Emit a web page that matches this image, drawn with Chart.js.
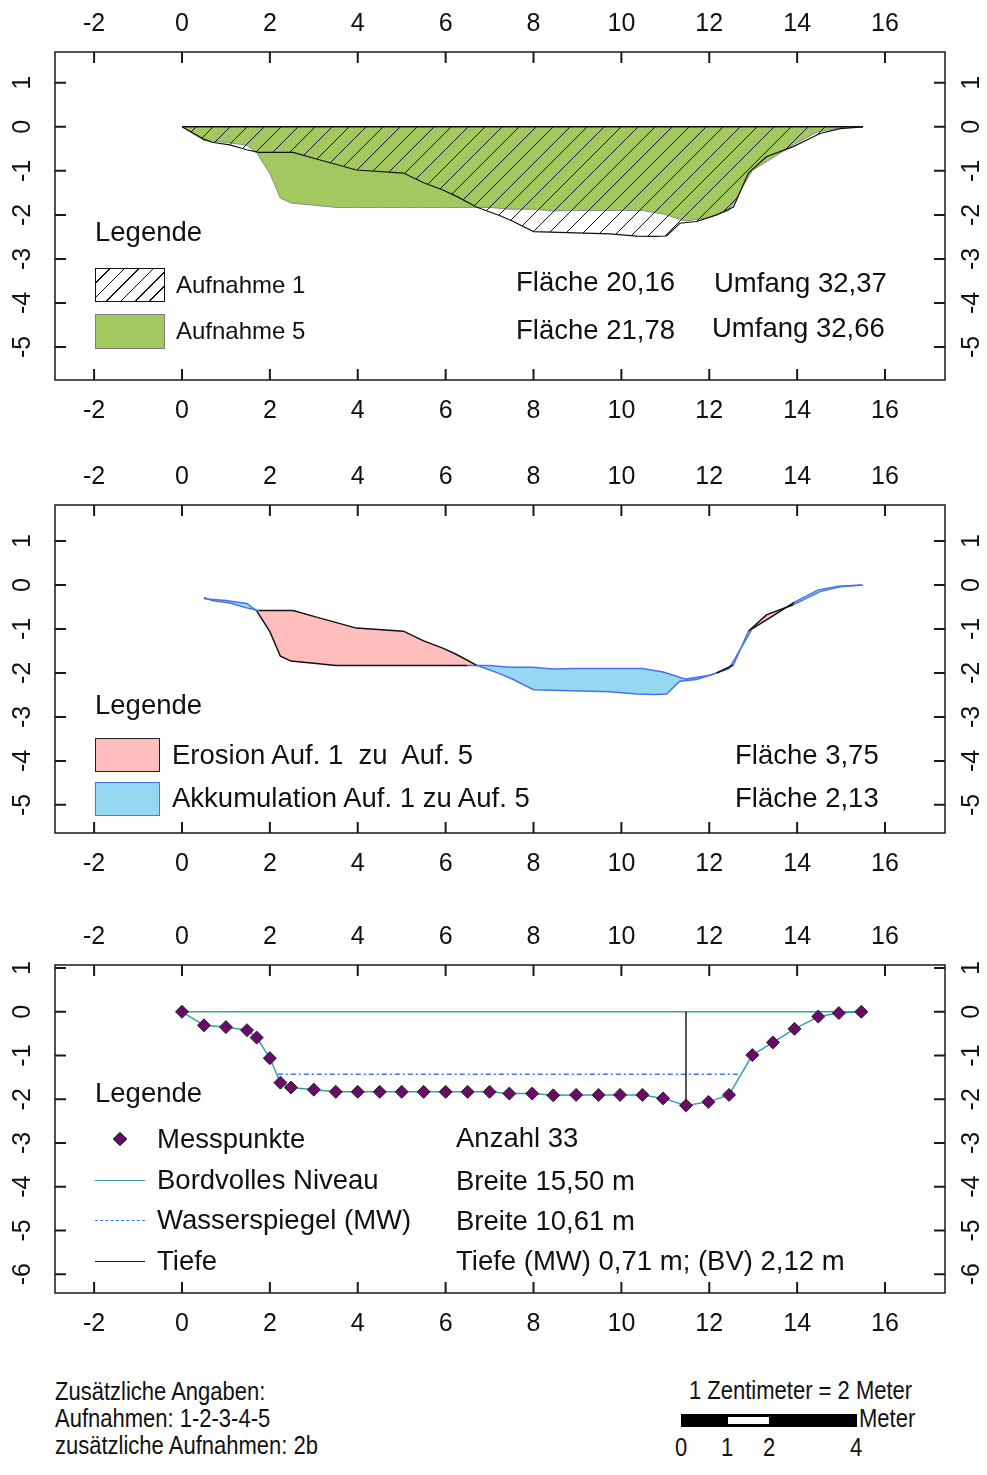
<!DOCTYPE html>
<html>
<head>
<meta charset="utf-8">
<script src="https://cdn.jsdelivr.net/npm/chart.js@4.4.0/dist/chart.umd.min.js"></script>
<style>
  body { margin: 0; background: #fff; }
  #page { position: relative; width: 987px; height: 1475px; overflow: hidden;
          font-family: "Liberation Sans", Arial, sans-serif; color: #111; }
  canvas { position: absolute; left: 0; }
  .t { position: absolute; white-space: pre; transform: translateY(-50%); line-height: 1; font-size: 27.5px; }
  .s24 { font-size: 24px; }
  .n { font-size: 25px; transform-origin: 0 50%; transform: translateY(-50%) scaleX(0.88); }
  .sw { position: absolute; box-sizing: border-box; border: 1.5px solid #111; }
  .hatch { background: repeating-linear-gradient(135deg, #fff 0 9px, #111 9px 10.2px); }
  .ln { position: absolute; height: 0; }
</style>
</head>
<body>
<div id="page">
  <canvas id="c1" width="987" height="440" style="top:0"></canvas>
  <canvas id="c2" width="987" height="445" style="top:445px"></canvas>
  <canvas id="c3" width="987" height="445" style="top:905px"></canvas>

  <!-- Panel 1 -->
  <div class="t" style="left:95px;top:232px">Legende</div>
  <div class="sw hatch" style="left:95px;top:268px;width:70px;height:34px"></div>
  <div class="t s24" style="left:176px;top:285px">Aufnahme 1</div>
  <div class="sw" style="left:95px;top:314px;width:70px;height:35px;background:#a4c860;border-color:#7d7d7d"></div>
  <div class="t s24" style="left:176px;top:331px">Aufnahme 5</div>
  <div class="t" style="left:516px;top:282px">Fläche 20,16</div>
  <div class="t" style="left:714px;top:283px">Umfang 32,37</div>
  <div class="t" style="left:516px;top:330px">Fläche 21,78</div>
  <div class="t" style="left:712px;top:328px">Umfang 32,66</div>

  <!-- Panel 2 -->
  <div class="t" style="left:95px;top:705px">Legende</div>
  <div class="sw" style="left:95px;top:738px;width:65px;height:34px;background:#ffbdbd;border-color:#222"></div>
  <div class="t" style="left:172px;top:755px">Erosion Auf. 1  zu  Auf. 5</div>
  <div class="sw" style="left:95px;top:782px;width:65px;height:34px;background:#96d8f2;border-color:#4a72ee"></div>
  <div class="t" style="left:172px;top:798px">Akkumulation Auf. 1 zu Auf. 5</div>
  <div class="t" style="left:735px;top:755px">Fläche 3,75</div>
  <div class="t" style="left:735px;top:798px">Fläche 2,13</div>

  <!-- Panel 3 -->
  <div class="t" style="left:95px;top:1093px">Legende</div>
  <div style="position:absolute;left:115px;top:1134px;width:8px;height:8px;background:#6c0a6c;border:1px solid #222;transform:rotate(45deg)"></div>
  <div class="t" style="left:157px;top:1139px">Messpunkte</div>
  <div class="ln" style="left:95px;top:1180px;width:50px;border-top:1.5px solid #3aa0a0"></div>
  <div class="t" style="left:157px;top:1180px">Bordvolles Niveau</div>
  <div class="ln" style="left:95px;top:1220px;width:50px;border-top:1.5px dashed #3a75ff"></div>
  <div class="t" style="left:157px;top:1220px">Wasserspiegel (MW)</div>
  <div class="ln" style="left:95px;top:1261px;width:50px;border-top:1.5px solid #111"></div>
  <div class="t" style="left:157px;top:1261px">Tiefe</div>
  <div class="t" style="left:456px;top:1138px">Anzahl 33</div>
  <div class="t" style="left:456px;top:1181px">Breite 15,50 m</div>
  <div class="t" style="left:456px;top:1221px">Breite 10,61 m</div>
  <div class="t" style="left:456px;top:1261px">Tiefe (MW) 0,71 m; (BV) 2,12 m</div>

  <!-- Fußzeile -->
  <div class="t n" style="left:55px;top:1391px">Zusätzliche Angaben:</div>
  <div class="t n" style="left:55px;top:1418px">Aufnahmen: 1-2-3-4-5</div>
  <div class="t n" style="left:55px;top:1445px">zusätzliche Aufnahmen: 2b</div>
  <div class="t n" style="left:689px;top:1390px">1 Zentimeter = 2 Meter</div>
  <div style="position:absolute;left:681px;top:1414px;width:176px;height:13px;background:#000"></div>
  <div style="position:absolute;left:728px;top:1417px;width:41px;height:7px;background:#fff"></div>
  <div class="t n" style="left:859px;top:1418px">Meter</div>
  <div class="t n" style="left:675px;top:1447px">0</div>
  <div class="t n" style="left:721px;top:1447px">1</div>
  <div class="t n" style="left:763px;top:1447px">2</div>
  <div class="t n" style="left:850px;top:1447px">4</div>
</div>

<script>
// Achsen
const xTicks = [-2, 0, 2, 4, 6, 8, 10, 12, 14, 16];
const xMin = -2.89, xMax = 17.365;
const yTicks12 = [1, 0, -1, -2, -3, -4, -5];
const yTicks3 = [1, 0, -1, -2, -3, -4, -5, -6];
const yRange1 = [-5.75, 1.70];
const yRange2 = [-5.64, 1.82];
const yRange3 = [-6.43, 1.07];

// Aufnahme 1 (Querprofil)
const profil1X = [0, 0.5, 0.68, 1.09, 1.47, 1.75, 2.53, 3.06, 3.97, 5.04, 5.5, 5.95, 6.25, 6.7,
  7.24, 7.54, 8.0, 9.74, 10.35, 10.76, 11.03, 11.33, 11.71, 12.17, 12.55, 12.89, 13.3, 13.91,
  14.52, 14.98, 15.5];
const profil1Y = [0, -0.28, -0.35, -0.41, -0.52, -0.58, -0.58, -0.73, -0.98, -1.05, -1.27, -1.44,
  -1.58, -1.82, -2.02, -2.15, -2.38, -2.43, -2.48, -2.49, -2.48, -2.19, -2.15, -2.0, -1.82,
  -1.05, -0.68, -0.45, -0.15, -0.04, 0];

// Aufnahme 5 (Messpunkte)
const profil5X = [0, 0.5, 1.0, 1.48, 1.7, 2.0, 2.24, 2.48, 3.0, 3.5, 4.0, 4.5, 5.0, 5.5, 6.0, 6.5,
  7.0, 7.45, 7.97, 8.45, 8.97, 9.48, 9.97, 10.48, 10.95, 11.47, 11.98, 12.45, 12.98, 13.45,
  13.94, 14.48, 14.95, 15.46];
const profil5Y = [0, -0.31, -0.35, -0.42, -0.59, -1.06, -1.62, -1.73, -1.78, -1.83, -1.83, -1.83,
  -1.83, -1.83, -1.83, -1.83, -1.83, -1.87, -1.87, -1.91, -1.9, -1.9, -1.9, -1.9, -1.98, -2.14,
  -2.06, -1.9, -0.99, -0.7, -0.39, -0.11, -0.03, 0];

// Bordvolles Niveau, Wasserspiegel, Tiefe
const bordX = [0, 15.5];
const bordY = 0;
const wasserX = [2.18, 12.7];
const wasserY = -1.43;
const tiefeX = 11.47;
const tiefeY = [0, -2.14];

const FONT = '"Liberation Sans", Arial, sans-serif';
const GREEN = '#a4c860', PINK = '#ffbdbd', LIGHTBLUE = '#96d8f2';
const BLUE = '#4a72ee', TEAL = '#3aa0a0', PURPLE = '#6c0a6c';

const pts = (xs, ys) => xs.map((x, i) => ({ x, y: Array.isArray(ys) ? ys[i] : ys }));

function interp(xs, ys, x) {
  if (x <= xs[0]) return ys[0];
  for (let i = 1; i < xs.length; i++) {
    if (x <= xs[i]) {
      const t = (x - xs[i - 1]) / (xs[i] - xs[i - 1]);
      return ys[i - 1] + t * (ys[i] - ys[i - 1]);
    }
  }
  return ys[ys.length - 1];
}

function hatchPattern() {
  const s = 17;
  const c = document.createElement('canvas');
  c.width = s; c.height = s;
  const g = c.getContext('2d');
  g.strokeStyle = '#111';
  g.lineWidth = 1;
  g.beginPath();
  [0, s, 2 * s].forEach((k) => { g.moveTo(-2, k + 2); g.lineTo(k + 2, -2); });
  g.stroke();
  return g.createPattern(c, 'repeat');
}

// Rahmen, Ticks nach innen, gedrehte y-Beschriftung
const frame = {
  id: 'frame',
  afterDraw(chart) {
    const { ctx, chartArea: a, scales } = chart;
    const L = 11;
    ctx.save();
    ctx.strokeStyle = '#1a1a1a';
    ctx.lineWidth = 1.5;
    ctx.strokeRect(a.left, a.top, a.right - a.left, a.bottom - a.top);
    ctx.lineWidth = 2;
    ctx.beginPath();
    scales.x.ticks.forEach((t) => {
      const px = scales.x.getPixelForValue(t.value);
      ctx.moveTo(px, a.bottom); ctx.lineTo(px, a.bottom - L);
      ctx.moveTo(px, a.top); ctx.lineTo(px, a.top + L);
    });
    scales.y.ticks.forEach((t) => {
      const py = scales.y.getPixelForValue(t.value);
      ctx.moveTo(a.left, py); ctx.lineTo(a.left + L, py);
      ctx.moveTo(a.right, py); ctx.lineTo(a.right - L, py);
    });
    ctx.stroke();

    ctx.fillStyle = '#111';
    ctx.font = '25px ' + FONT;
    ctx.textAlign = 'center';
    ctx.textBaseline = 'middle';
    scales.y.ticks.forEach((t) => {
      const py = scales.y.getPixelForValue(t.value);
      [a.left - 32, a.right + 27].forEach((x) => {
        ctx.save();
        ctx.translate(x, py);
        ctx.rotate(-Math.PI / 2);
        ctx.fillText(String(t.value), 0, 0);
        ctx.restore();
      });
    });
    ctx.restore();
  },
};

function makeScales(yRange, yTicks, topH, botH) {
  const xTickOpts = (padding) => ({
    padding,
    color: '#111',
    font: { size: 25, family: FONT },
    maxRotation: 0,
    autoSkip: false,
    callback: (v) => String(v),
  });
  const setX = (s) => { s.ticks = xTicks.map((v) => ({ value: v })); };
  const setY = (s) => { s.ticks = yTicks.map((v) => ({ value: v })); };
  const off = { display: false, drawTicks: false };
  return {
    x: { type: 'linear', position: 'bottom', min: xMin, max: xMax, afterBuildTicks: setX,
      grid: off, border: { display: false }, ticks: xTickOpts(16),
      afterFit: (s) => { s.height = botH; } },
    x2: { type: 'linear', position: 'top', min: xMin, max: xMax, afterBuildTicks: setX,
      grid: off, border: { display: false }, ticks: xTickOpts(13),
      afterFit: (s) => { s.height = topH; } },
    y: { type: 'linear', position: 'left', min: yRange[0], max: yRange[1], afterBuildTicks: setY,
      grid: off, border: { display: false }, ticks: { display: false },
      afterFit: (s) => { s.width = 55; } },
    y2: { type: 'linear', position: 'right', min: yRange[0], max: yRange[1], afterBuildTicks: setY,
      grid: off, border: { display: false }, ticks: { display: false },
      afterFit: (s) => { s.width = 42; } },
  };
}

function makeChart(id, datasets, scales, fillerTime) {
  return new Chart(document.getElementById(id), {
    type: 'line',
    data: { datasets },
    options: {
      responsive: false,
      devicePixelRatio: 1,
      animation: false,
      events: [],
      layout: { padding: 0 },
      elements: { point: { radius: 0 }, line: { tension: 0 } },
      plugins: {
        legend: { display: false },
        tooltip: { enabled: false },
        filler: { drawTime: fillerTime },
      },
      scales,
    },
    plugins: [frame],
  });
}

// Panel 1: Aufnahme 1 / Aufnahme 5
makeChart('c1', [
  { data: pts(bordX, bordY), borderColor: '#111', borderWidth: 1.5, fill: false },
  { data: pts(profil1X, profil1Y), borderColor: '#111', borderWidth: 1.2,
    backgroundColor: hatchPattern(), fill: { value: 0 } },
  { data: pts(profil5X, profil5Y), borderColor: '#8a8a8a', borderWidth: 1,
    backgroundColor: GREEN, fill: { value: 0 } },
], makeScales(yRange1, yTicks12, 52, 60), 'beforeDatasetDraw');

// Panel 2: Erosion / Akkumulation
const segColor = (ctx) => {
  const mx = (ctx.p0.parsed.x + ctx.p1.parsed.x) / 2;
  return interp(profil1X, profil1Y, mx) > interp(profil5X, profil5Y, mx) + 0.005 ? '#111' : BLUE;
};
makeChart('c2', [
  { data: pts(profil1X.slice(1), profil1Y.slice(1)), borderWidth: 1.5, borderColor: BLUE,
    segment: { borderColor: segColor },
    fill: { target: 1, above: PINK, below: LIGHTBLUE } },
  { data: pts(profil5X.slice(1), profil5Y.slice(1)), borderWidth: 1.5, borderColor: BLUE,
    segment: { borderColor: segColor }, fill: false },
], makeScales(yRange2, yTicks12, 60, 57), 'beforeDatasetsDraw');

// Panel 3: Messpunkte
makeChart('c3', [
  { data: pts(profil5X, profil5Y), borderColor: TEAL, borderWidth: 1.5, fill: false,
    pointStyle: 'rectRot', pointRadius: 6.5, pointBackgroundColor: PURPLE,
    pointBorderColor: '#222', pointBorderWidth: 1 },
  { data: pts([tiefeX, tiefeX], tiefeY), borderColor: '#222', borderWidth: 1.5, fill: false },
  { data: pts(wasserX, wasserY), borderColor: '#3a75ff', borderWidth: 1.5,
    borderDash: [5, 3, 2, 3], fill: false },
  { data: pts(bordX, bordY), borderColor: TEAL, borderWidth: 1.5, fill: false },
], makeScales(yRange3, yTicks3, 60, 57), 'beforeDatasetDraw');
</script>
</body>
</html>
